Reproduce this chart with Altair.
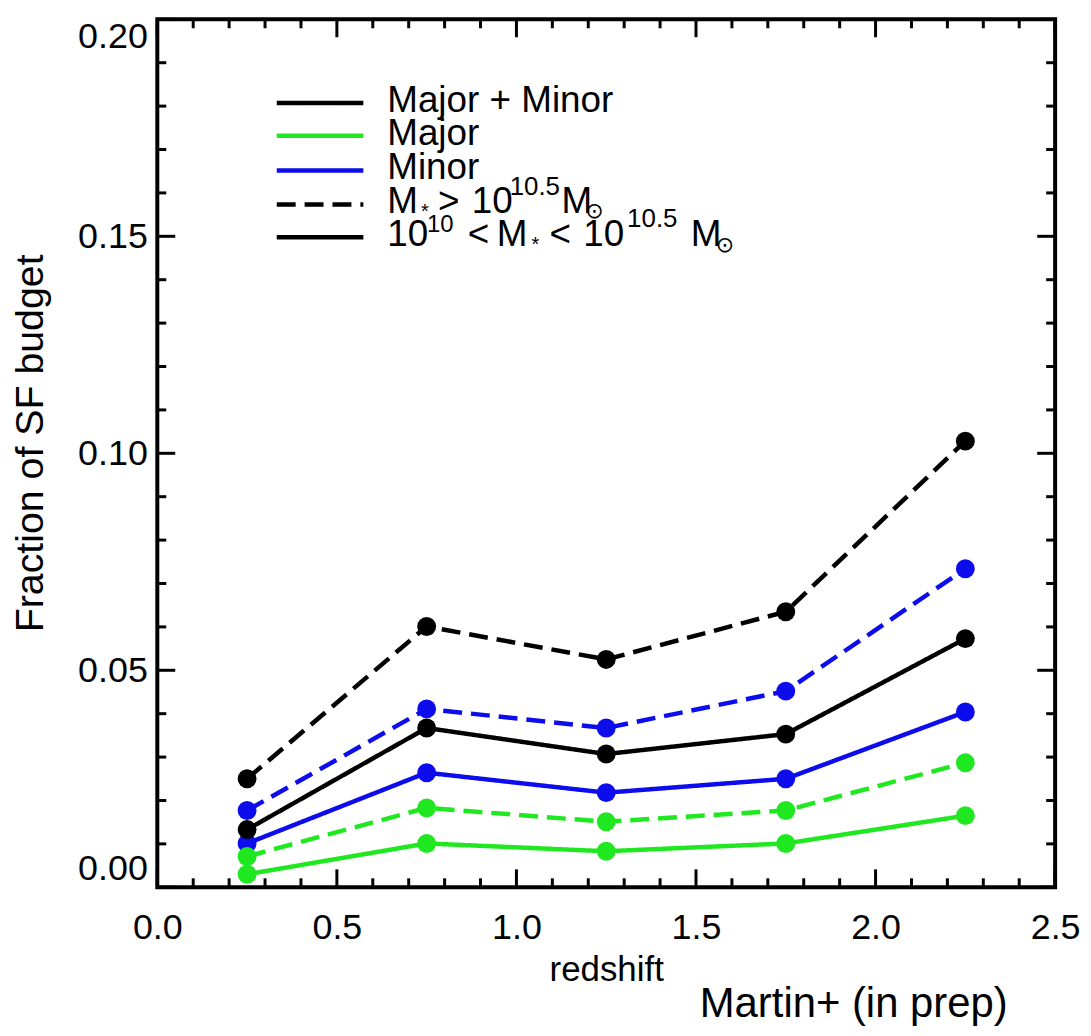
import altair as alt
import pandas as pd

# ---------------- data ----------------
redshift = [0.25, 0.75, 1.25, 1.75, 2.25]
minor_high = [0.0177, 0.0411, 0.0367, 0.0452, 0.0734]
minor_low = [0.0101, 0.0264, 0.0218, 0.0250, 0.0404]
total_high = [0.0250, 0.0601, 0.0525, 0.0635, 0.1028]
total_low = [0.0133, 0.0367, 0.0307, 0.0353, 0.0573]
major_high = [0.0071, 0.0183, 0.0151, 0.0177, 0.0287]
major_low = [0.0030, 0.0101, 0.0083, 0.0101, 0.0165]

components = ["Major + Minor", "Major", "Minor"]
comp_colors = ["#000000", "#20e820", "#0c0cec"]
mass_bins = ["high", "low"]

x_major_ticks = [0.0, 0.5, 1.0, 1.5, 2.0, 2.5]
x_minor_ticks = [0.1, 0.2, 0.3, 0.4, 0.6, 0.7, 0.8, 0.9, 1.1, 1.2, 1.3, 1.4,
                 1.6, 1.7, 1.8, 1.9, 2.1, 2.2, 2.3, 2.4]
y_major_ticks = [0.0, 0.05, 0.10, 0.15, 0.20]
y_minor_ticks = [0.01, 0.02, 0.03, 0.04, 0.06, 0.07, 0.08, 0.09, 0.11, 0.12,
                 0.13, 0.14, 0.16, 0.17, 0.18, 0.19]

series = [
    ("Minor", "high", minor_high),
    ("Minor", "low", minor_low),
    ("Major + Minor", "high", total_high),
    ("Major + Minor", "low", total_low),
    ("Major", "high", major_high),
    ("Major", "low", major_low),
]
rows = []
for comp, mass, vals in series:
    for z, v in zip(redshift, vals):
        rows.append({"z": z, "frac": v, "comp": comp, "mass": mass})
df = pd.DataFrame(rows)

# ---------------- layout ----------------
W, H = 902, 872
OX, OY = 158, 17  # page position of the plot origin
FONT = "Liberation Sans"
DASH = [19, 9]

xscale = alt.Scale(domain=[0, 2.5], nice=False, zero=False)
yscale = alt.Scale(domain=[0, 0.2], nice=False, zero=False)

xaxis = alt.Axis(values=x_major_ticks, format=".1f", labelFont=FONT, labelFontSize=36,
                 labelColor="black", labelBaseline="alphabetic", labelPadding=51,
                 labelFlush=False, labelAlign="center",
                 ticks=False, domain=False, grid=False,
                 title="redshift", titleFont=FONT, titleFontSize=35, titleFontWeight="normal",
                 titleColor="black", titleBaseline="alphabetic", titleAlign="center",
                 titleX=W / 2, titleY=94)
yaxis = alt.Axis(values=y_major_ticks, format=".2f", labelFont=FONT, labelFontSize=36,
                 labelColor="black", labelPadding=10, labelFlush=True,
                 ticks=False, domain=False, grid=False,
                 title="Fraction of SF budget", titleFont=FONT, titleFontSize=39.5,
                 titleFontWeight="normal", titleColor="black", titleBaseline="alphabetic",
                 titleAlign="center", titleAngle=270, titleX=-115, titleY=425.5)

color = alt.Color("comp:N", scale=alt.Scale(domain=components, range=comp_colors), legend=None)
dash = alt.StrokeDash("mass:N", scale=alt.Scale(domain=mass_bins, range=[DASH, [1, 0]]), legend=None)

lines = alt.Chart(df).mark_line(strokeWidth=4.5).encode(
    x=alt.X("z:Q", scale=xscale, axis=xaxis),
    y=alt.Y("frac:Q", scale=yscale, axis=yaxis),
    color=color,
    strokeDash=dash,
)
points = alt.Chart(df).mark_circle(size=360, opacity=1).encode(
    x=alt.X("z:Q", scale=xscale, axis=xaxis),
    y=alt.Y("frac:Q", scale=yscale, axis=yaxis),
    color=color,
)

def xticks(vals, length):
    d = pd.DataFrame({"z": vals})
    b = alt.Chart(d).mark_rule(color="black", strokeWidth=3).encode(
        x=alt.X("z:Q", scale=xscale, axis=xaxis))
    return [b.encode(y=alt.value(H), y2=alt.value(H - length)),
            b.encode(y=alt.value(0), y2=alt.value(length))]

def yticks(vals, length):
    d = pd.DataFrame({"frac": vals})
    b = alt.Chart(d).mark_rule(color="black", strokeWidth=3).encode(
        y=alt.Y("frac:Q", scale=yscale, axis=yaxis))
    return [b.encode(x=alt.value(0), x2=alt.value(length)),
            b.encode(x=alt.value(W), x2=alt.value(W - length))]

tick_layers = xticks(x_major_ticks, 18) + xticks(x_minor_ticks, 9) + \
    yticks(y_major_ticks, 18) + yticks(y_minor_ticks, 9)

one = alt.Data(values=[{"k": 0}])

def txt(s, x, y, size, font=FONT):
    return alt.Chart(one).mark_text(text=s, font=font, fontSize=size, align="left",
                                    baseline="alphabetic", color="black").encode(
        x=alt.value(x - OX), y=alt.value(y - OY))

def seg(y, col, d=None):
    m = alt.Chart(one).mark_rule(color=col, strokeWidth=4.5, strokeDash=d if d else [1, 0])
    return m.encode(x=alt.value(278 - OX), x2=alt.value(365 - OX), y=alt.value(y - OY))

legend_layers = [
    seg(101, "#000000"), txt("Major + Minor", 389, 110, 37),
    seg(134, "#20e820"), txt("Major", 389, 143, 37),
    seg(169, "#0c0cec"), txt("Minor", 389, 177, 37),
    seg(203, "#000000", DASH),
    txt("M", 389, 212, 37), txt("*", 423, 217, 20), txt(">", 440, 212, 37),
    txt("10", 474, 212, 37), txt("10.5", 512, 193, 26), txt("M", 564, 212, 37),
    txt("\u2299", 588, 217, 22, "DejaVu Sans"),
    seg(236, "#000000"),
    txt("10", 389, 245, 37), txt("10", 429, 231, 24), txt("<", 470, 245, 37),
    txt("M", 499, 245, 37), txt("*", 534, 250, 20), txt("<", 552, 245, 37),
    txt("10", 586, 245, 37), txt("10.5", 630, 226, 26), txt("M", 694, 245, 37),
    txt("\u2299", 719, 251, 22, "DejaVu Sans"),
    txt("Martin+ (in prep)", 703, 1019, 42),
]

chart = alt.layer(lines, points, *tick_layers, *legend_layers).properties(
    width=W, height=H,
    autosize=alt.AutoSizeParams(type="none"),
    padding={"left": OX - 8, "top": OY - 8, "right": 28, "bottom": 138},
    background="white",
).configure_view(stroke="black", strokeWidth=4)

chart.save("out.html", embed_options={"renderer": "svg", "actions": False})
